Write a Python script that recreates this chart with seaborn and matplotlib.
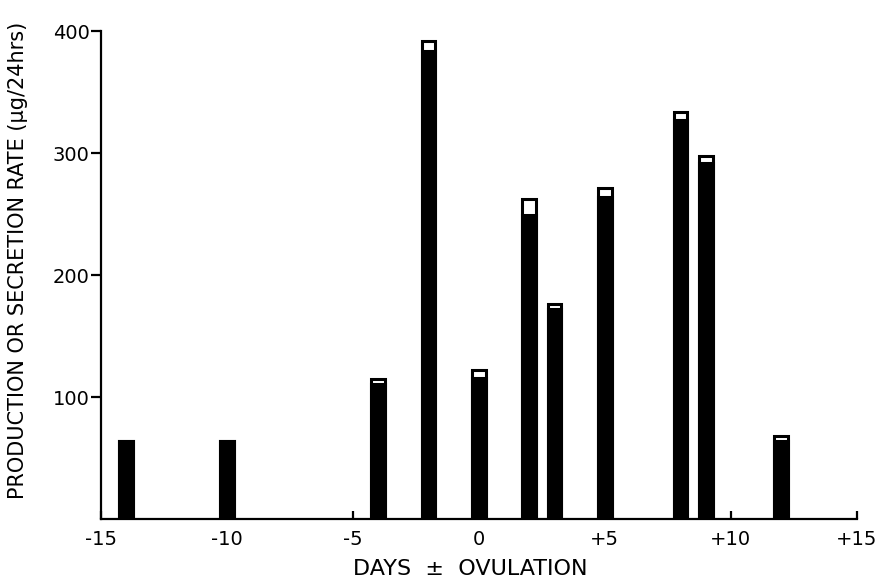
import matplotlib
matplotlib.use("Agg")
import matplotlib.pyplot as plt
import seaborn as sns
import pandas as pd

# Days relative to ovulation and rates (µg/24hrs)
days = [-14, -10, -4, -2, 0, 2, 3, 5, 8, 9, 12]
production = [64, 64, 115, 392, 122, 262, 176, 271, 334, 298, 68]
secretion = [64, 64, 111, 384, 116, 249, 172, 264, 327, 292, 64]

x_ticks = [-15, -10, -5, 0, 5, 10, 15]
x_tick_labels = ["-15", "-10", "-5", "0", "+5", "+10", "+15"]
y_ticks = [100, 200, 300, 400]
y_tick_labels = ["100", "200", "300", "400"]

df = pd.DataFrame({"day": days, "production": production, "secretion": secretion})

sns.set_theme(style="ticks")
plt.rcParams["font.family"] = ["DejaVu Sans"]

fig = plt.figure(figsize=(8.77, 5.86), dpi=100)
ax = fig.add_axes([0.115, 0.114, 0.862, 0.833])

# Production rate: outlined white bar; secretion rate: solid black bar in front
sns.barplot(data=df, x="day", y="production", native_scale=True, width=0.55,
            color="white", saturation=1, edgecolor="black", linewidth=2.2,
            errorbar=None, ax=ax)
sns.barplot(data=df, x="day", y="secretion", native_scale=True, width=0.55,
            color="black", saturation=1, edgecolor="black", linewidth=2.2,
            errorbar=None, ax=ax)

ax.set_xlim(-15, 15)
ax.set_ylim(0, 400)
ax.set_xticks(x_ticks)
ax.set_xticklabels(x_tick_labels)
ax.set_yticks(y_ticks)
ax.set_yticklabels(y_tick_labels)

for side in ("top", "right"):
    ax.spines[side].set_visible(False)
for side in ("left", "bottom"):
    ax.spines[side].set_linewidth(1.6)
    ax.spines[side].set_color("black")

ax.tick_params(axis="y", direction="out", length=7, width=1.6, pad=1,
               labelsize=14, colors="black")
ax.tick_params(axis="x", direction="in", length=6, width=1.6, pad=8,
               labelsize=14, colors="black")

ax.set_xlabel("")
ax.set_ylabel("")
fig.text(0.536, 0.012, "DAYS  \u00b1  OVULATION", ha="center", va="bottom",
         fontsize=16, color="black")
fig.text(0.021, 0.556, "PRODUCTION OR SECRETION RATE (\u00b5g/24hrs)",
         rotation=90, ha="center", va="center", fontsize=15, color="black")

fig.savefig("out.png", dpi=100, facecolor="white")
